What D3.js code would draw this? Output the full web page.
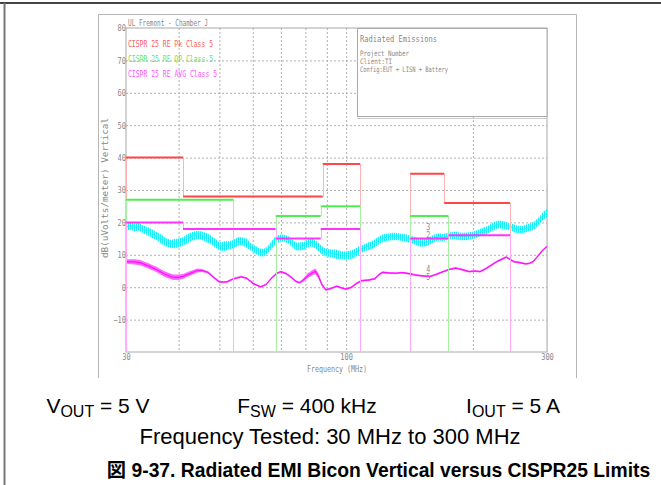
<!DOCTYPE html>
<html>
<head>
<meta charset="utf-8">
<script src="https://cdn.jsdelivr.net/npm/d3@7/dist/d3.min.js"></script>
<style>
  html, body { margin: 0; padding: 0; background: #fff; }
  svg { display: block; }
</style>
</head>
<body>
<div id="chart"></div>
<script>
// ---------------- DATA ----------------
const xDomain = [30, 300];
const yDomain = [-20, 80];
const yTicks = [80, 70, 60, 50, 40, 30, 20, 10, 0, -10];
const yGrid = [70, 60, 50, 40, 30, 20, 10, 0, -10];
const xTicks = [30, 100, 300];
const xGrid = [40, 50, 60, 70, 80, 90, 100, 200];

// CISPR 25 Class 5 limit segments: [f start MHz, f end MHz, level dBuV/m]
const pkLimits  = [[30, 41, 40], [41, 88, 28], [88, 108, 38], [142, 171, 35], [171, 245, 26]];
const qpLimits  = [[30, 54, 27], [68, 87, 22], [87, 108, 25], [142, 175, 22]];
const avgLimits = [[30, 41, 20], [41, 68, 18], [68, 87, 15], [87, 108, 18], [142, 175, 15], [175, 245, 16]];
// extra stand-alone edge lines: [f MHz, top level]
const pkEdges  = [[300, 32]];
const avgEdges = [[300, 16]];

// Measured traces: [f MHz, lower dB, upper dB]
const peakTrace = [
  [30,17.3,19.8],[30.7,17.8,20.2],[31.4,17.2,19.6],[32.2,17.5,19.9],[33,16.6,19.0],[33.8,16.0,18.6],
  [34.6,15.2,17.8],[35.5,14.6,17.0],[36.4,13.4,16.2],[37.3,12.6,15.2],[38.2,12.2,14.6],[39.1,12.0,14.9],
  [40,12.3,15.0],[41,12.9,15.4],[42,13.5,16.4],[43.1,14.4,17.0],[44.3,14.8,17.4],[45.4,14.7,17.2],
  [46.5,13.9,16.8],[47.6,13.4,16.0],[48.8,12.3,15.0],[50,11.3,13.8],[51.3,11.2,14.2],[52.6,11.6,14.2],
  [54,12.0,14.6],[55.3,12.8,15.5],[56.6,13.0,15.4],[58,12.2,15.0],[59.4,11.3,13.6],[60.8,10.4,12.8],
  [62.2,9.6,12.0],[63.6,9.4,11.8],[65,10.3,12.6],[66.5,11.8,14.2],[68,13.3,15.8],[69.6,14.0,16.3],
  [71.2,14.1,16.2],[72.8,13.5,15.8],[74.4,12.4,14.8],[76,11.4,13.8],[77.7,11.3,13.8],[79.4,11.6,14.0],
  [81.2,12.4,14.8],[83,12.6,15.0],[84.8,11.9,14.4],[86.7,10.6,13.2],[88.6,9.8,12.2],[90.6,9.4,11.8],
  [92.6,9.2,11.6],[94.6,8.8,11.6],[96.7,8.7,11.2],[98.8,8.6,11.0],[101,8.5,11.2],[103.2,8.8,11.4],
  [105.5,9.4,12.0],[107.8,10.3,12.8],[110.2,11.0,13.2],[112.6,11.4,13.8],[115.1,11.8,14.2],[117.6,12.6,15.0],
  [120.2,13.4,15.8],[122.8,14.0,16.4],[125.5,14.3,16.6],[128.3,14.5,16.8],[131.1,14.6,16.8],[134,14.4,16.6],
  [137,14.2,16.4],[140,13.9,16.2],[143,13.6,15.8],[146.2,13.0,15.4],[149.4,12.6,15.0],[152.7,12.5,14.9],
  [156,12.8,15.2],[159.5,13.5,15.8],[163,14.1,16.4],[166.6,14.3,16.6],[170.2,14.2,16.4],[174,14.6,16.8],
  [177.8,14.8,17.0],[181.7,14.8,17.2],[185.7,14.6,16.9],[189.8,14.5,16.8],[194,14.6,16.9],[198.3,14.8,17.0],
  [202.7,15.1,17.4],[207.1,15.6,17.9],[211.7,16.1,18.4],[216.4,16.5,18.8],[221.1,17.2,19.6],[226,17.9,20.3],
  [231,18.2,20.6],[236.1,18.0,20.4],[241.3,17.7,20.0],[246.6,17.4,19.7],[252,16.9,19.2],[257.6,16.6,18.9],
  [263.3,16.7,19.0],[269.1,17.1,19.4],[275,17.4,19.8],[281,18.0,20.4],[287.2,19.3,21.7],[293.6,20.8,23.2],
  [300,21.6,24.2]
];
const avgTrace = [
  [30,7.2,8.6],[31.5,7.0,8.6],[32.4,6.8,8.4],[34,5.7,7.3],[35.5,4.6,6.2],[37,3.2,4.9],[38.8,2.2,3.9],
  [40,2.2,3.9],[41,2.6,4.1],[42.5,3.5,4.9],[44.3,4.5,5.8],[45.5,4.7,5.6],[47,4.2,4.9],[48.5,2.7,3.3],
  [50,1.3,1.9],[52,1.3,1.9],[54,2.3,2.9],[56.4,2.9,3.5],[58,2.5,3.1],[60,0.9,1.5],[62.6,-0.2,0.4],
  [64.5,0.5,1.1],[66.5,2.5,3.1],[68.5,4.0,4.6],[70,4.5,5.1],[72,3.9,4.5],[74.2,2.7,3.3],[76,1.5,2.1],
  [77.4,1.1,1.7],[79,1.6,2.6],[81,2.8,4.2],[83,3.6,5.2],[84.5,4.0,5.8],[86,2.6,4.2],[87.5,0.4,1.4],
  [89.5,-1.1,-0.5],[92,-0.7,-0.1],[95,0.0,0.6],[97.5,-0.5,0.1],[100,-0.9,-0.3],[103,-0.3,0.3],
  [106,0.9,1.5],[108.7,1.7,2.3],[113,1.9,2.5],[117,2.3,2.9],[120,3.7,4.3],[122,4.3,4.9],[126,4.1,4.7],
  [131,4.0,4.6],[136,4.2,4.8],[142.5,3.8,4.4],[147,3.4,4.0],[152,3.2,3.8],[158,3.0,3.6],[164,3.7,4.3],
  [170,4.5,5.1],[176,5.2,5.8],[182,5.6,6.2],[189,5.1,5.7],[196,4.5,5.1],[202,4.7,5.3],[208,4.5,5.1],
  [214,5.3,5.9],[221,6.5,7.1],[228,7.6,8.2],[234,8.3,8.9],[240,9.0,9.6],[245,8.3,8.9],[250,7.6,8.2],
  [258,7.3,7.9],[267,6.9,7.5],[273,7.1,7.7],[278,7.6,8.2],[285,9.2,9.8],[292,10.9,11.5],[300,12.3,12.9]
];
// marker labels: [label, f MHz, level]
const markers = [["3", 156.8, 18.6], ["2", 156.8, 16.2], ["4", 156.8, 5.6], ["5", 156.8, 3.0]];

const legendNames = ["CISPR 25 RE Pk Class 5", "CISPR 25 RE QP Class 5", "CISPR 25 RE AVG Class 5"];
const infoTitle = "Radiated Emissions";
const infoLines = ["Project Number", "Client:TI", "Config:EUT + LISN + Battery"];

// ---------------- DRAWING ----------------
const W = 661, H = 485;
const svg = d3.select("#chart").append("svg").attr("width", W).attr("height", H);
const mono = "'DejaVu Sans Mono', 'Liberation Mono', monospace";
const sans = "'Liberation Sans', Arial, 'Noto Sans CJK JP', sans-serif";

// hatch pattern imitating the dense noise of the peak trace
const defs = svg.append("defs");
const pat = defs.append("pattern").attr("id", "noise").attr("patternUnits", "userSpaceOnUse")
  .attr("width", 2).attr("height", 1);
pat.append("rect").attr("width", 2).attr("height", 1).attr("fill", "#b2fbfe");
pat.append("rect").attr("width", 1).attr("height", 1).attr("fill", "#18eef9");

// page frame
svg.append("line").attr("x1", 0).attr("x2", W).attr("y1", 3).attr("y2", 3).attr("stroke", "#444").attr("stroke-width", 2);
svg.append("line").attr("x1", 4.5).attr("x2", 4.5).attr("y1", 3).attr("y2", H).attr("stroke", "#777").attr("stroke-width", 2);

// inner gray frame of the screenshot
svg.append("path").attr("d", "M98.5,378V14.5H576.5V378").attr("fill", "none").attr("stroke", "#b5b5b5");

const L = 126, R = 547, T = 28, B = 352;
const x = d3.scaleLog().domain(xDomain).range([L, R]);
const y = d3.scaleLinear().domain(yDomain).range([B, T]);

// grid
const gx = svg.append("g").attr("transform", `translate(0,${T})`)
  .call(d3.axisBottom(x).tickValues(xGrid).tickSize(B - T).tickFormat(""));
gx.select(".domain").remove();
gx.selectAll("line").attr("stroke", "#b0b0b0").attr("stroke-dasharray", "2,2");
const gy = svg.append("g").attr("transform", `translate(${L},0)`)
  .call(d3.axisLeft(y).tickValues(yGrid).tickSize(-(R - L)).tickFormat(""));
gy.select(".domain").remove();
gy.selectAll("line").attr("stroke", "#b0b0b0").attr("stroke-dasharray", "2,2");

// plot frame
svg.append("rect").attr("x", L).attr("y", T).attr("width", R - L).attr("height", B - T)
  .attr("fill", "none").attr("stroke", "#a8a8a8");

function fitText(sel, len) {
  sel.attr("textLength", len).attr("lengthAdjust", "spacingAndGlyphs");
}

// axes labels
const ay = svg.append("g").attr("transform", `translate(${L},0)`)
  .call(d3.axisLeft(y).tickValues(yTicks).tickSize(0).tickPadding(0).tickFormat(d3.format("d")));
ay.select(".domain").remove();
ay.selectAll("text").attr("font-family", mono).attr("font-size", 9).attr("fill", "#888")
  .each(function(d) { fitText(d3.select(this), String(d).length * 4.2); });

const ax = svg.append("g").attr("transform", `translate(0,${B})`)
  .call(d3.axisBottom(x).tickValues(xTicks).tickSize(0).tickPadding(1.5).tickFormat(d3.format("d")));
ax.select(".domain").remove();
ax.selectAll("text").attr("font-family", mono).attr("font-size", 9).attr("fill", "#888")
  .each(function(d) { fitText(d3.select(this), String(d).length * 4.2); });

const small = (txt, xx, yy, len, col, size, anchor) => {
  const t = svg.append("text").attr("x", xx).attr("y", yy).text(txt)
    .attr("font-family", mono).attr("font-size", size || 9).attr("fill", col || "#888")
    .attr("text-anchor", anchor || "start");
  if (len) fitText(t, len);
  return t;
};

small("UL Fremont - Chamber J", 128, 25.5, 80);
small("Frequency (MHz)", 337, 372, 60, "#888", 9, "middle");
svg.append("text").attr("transform", "translate(108,188) rotate(-90)")
  .attr("text-anchor", "middle").attr("font-family", mono).attr("font-size", 9).attr("fill", "#888")
  .text("dB(uVolts/meter) Vertical").call(fitText, 140);

// legend
const legColors = ["#ff5a5a", "#55ee55", "#ff55ff"];
const legY = [46.5, 61.5, 77];
const legLen = [85, 85, 89];
legendNames.forEach((n, i) => small(n, 128, legY[i], legLen[i], legColors[i]));

// info box
svg.append("rect").attr("x", 357.5).attr("y", T + 0.5).attr("width", R - 357.5).attr("height", 88)
  .attr("fill", "#fff").attr("stroke", "#aaa");
svg.append("line").attr("x1", 357).attr("x2", R).attr("y1", 118.5).attr("y2", 118.5).attr("stroke", "#ccc");
small(infoTitle, 360, 41.5, 77);
const infoY = [56, 64, 72];
const infoLen = [49, 32, 88];
infoLines.forEach((t, i) => small(t, 360, infoY[i], infoLen[i], "#888", 7.5));

// traces
const area = d3.area().x(d => x(d[0])).y0(d => y(d[1])).y1(d => y(d[2]));
const mid = d3.line().x(d => x(d[0])).y(d => y((d[1] + d[2]) / 2));
svg.append("path").datum(peakTrace).attr("d", area).attr("fill", "url(#noise)");
svg.append("path").datum(peakTrace).attr("d", mid).attr("fill", "none").attr("stroke", "#22eaf6").attr("stroke-width", 0.8);
svg.append("path").datum(avgTrace).attr("d", area).attr("fill", "#ff66ff");
svg.append("path").datum(avgTrace).attr("d", mid).attr("fill", "none").attr("stroke", "#ff10ff").attr("stroke-width", 1.2);

// marker labels
markers.forEach(m => {
  svg.append("text").attr("x", x(m[1])).attr("y", y(m[2])).attr("dy", "0.35em")
    .attr("text-anchor", "middle").attr("font-family", mono).attr("font-size", 8).attr("fill", "#888")
    .text(m[0]).call(fitText, 4);
});

// limit lines
function drawLimit(segs, edges, strong, light) {
  const groups = [];
  segs.forEach(s => {
    const last = groups[groups.length - 1];
    if (last && last[last.length - 1][1] === s[0]) last.push(s); else groups.push([s]);
  });
  const vert = [];
  groups.forEach(gp => {
    vert.push([gp[0][0], gp[0][2], yDomain[0]]);
    for (let i = 1; i < gp.length; i++) vert.push([gp[i][0], gp[i - 1][2], gp[i][2]]);
    const e = gp[gp.length - 1];
    vert.push([e[1], e[2], yDomain[0]]);
  });
  edges.forEach(e => vert.push([e[0], e[1], yDomain[0]]));
  svg.append("g").selectAll("line").data(vert).join("line")
    .attr("x1", d => Math.round(x(d[0])) + 0.5).attr("x2", d => Math.round(x(d[0])) + 0.5)
    .attr("y1", d => y(d[1])).attr("y2", d => y(d[2]))
    .attr("stroke", light).attr("stroke-width", 1);
  svg.append("g").selectAll("line").data(segs).join("line")
    .attr("x1", d => x(d[0])).attr("x2", d => x(d[1]))
    .attr("y1", d => y(d[2])).attr("y2", d => y(d[2]))
    .attr("stroke", strong).attr("stroke-width", 2);
}
drawLimit(pkLimits, pkEdges, "#ff4545", "#ffb4b4");
drawLimit(qpLimits, [], "#4ef04e", "#a6f0a6");
drawLimit(avgLimits, avgEdges, "#ff33ff", "#ffa8ff");

// bottom text
const cond = svg.append("g").attr("font-family", sans).attr("font-size", 21).attr("fill", "#000");
function withSub(cx, main, sub, rest) {
  const t = cond.append("text").attr("x", cx).attr("y", 413).attr("text-anchor", "middle");
  t.append("tspan").text(main);
  t.append("tspan").attr("font-size", 16).attr("dy", 4).text(sub);
  t.append("tspan").attr("dy", -4).text(rest);
}
withSub(98, "V", "OUT", " = 5 V");
withSub(307, "F", "SW", " = 400 kHz");
withSub(513, "I", "OUT", " = 5 A");
cond.append("text").attr("x", 330).attr("y", 444).attr("text-anchor", "middle").attr("font-size", 22)
  .text("Frequency Tested: 30 MHz to 300 MHz");
svg.append("text").attr("x", 378.5).attr("y", 477).attr("text-anchor", "middle")
  .attr("font-family", sans).attr("font-size", 19.3).attr("font-weight", "bold").attr("fill", "#000")
  .text("図 9-37. Radiated EMI Bicon Vertical versus CISPR25 Limits");
</script>
</body>
</html>
